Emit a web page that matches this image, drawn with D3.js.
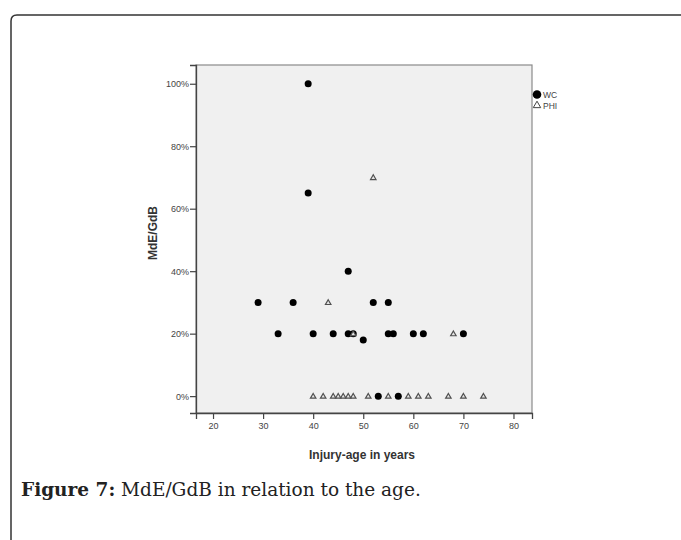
<!DOCTYPE html>
<html>
<head>
<meta charset="utf-8">
<script src="https://cdn.jsdelivr.net/npm/d3@7"></script>
<style>
  body { margin: 0; background: #fff; }
  svg { display: block; }
</style>
</head>
<body>
<svg id="chart" width="681" height="540"></svg>
<script>
// WC cases (filled circles)
const wcAge = [39, 39, 29, 36, 33, 40, 47, 52, 55, 44, 47, 48, 50, 55, 56, 60, 62, 70, 53, 57];
const wcPct = [100, 65, 30, 30, 20, 20, 40, 30, 30, 20, 20, 20, 18, 20, 20, 20, 20, 20, 0, 0];

// PHI cases (open triangles)
const phiAge = [52, 43, 68, 48, 40, 42, 44, 45, 46, 47, 48, 51, 55, 59, 61, 63, 67, 70, 74];
const phiPct = [70, 30, 20, 20, 0, 0, 0, 0, 0, 0, 0, 0, 0, 0, 0, 0, 0, 0, 0];

const xTicks = [20, 30, 40, 50, 60, 70, 80];
const yTicks = [0, 20, 40, 60, 80, 100];

const svg = d3.select("#chart");

// outer figure frame (only top & left visible)
svg.append("path")
  .attr("d", "M11,560 L11,21 Q11,15 17,15 L700,15")
  .attr("fill", "none")
  .attr("stroke", "#333")
  .attr("stroke-width", 1.5);

const plot = { left: 196, right: 532, top: 65, bottom: 413 };

const x = d3.scaleLinear().domain([16.6, 83.7]).range([plot.left, plot.right]);
const y = d3.scaleLinear().domain([-5.4, 106]).range([plot.bottom, plot.top]);

// plot background
svg.append("rect")
  .attr("x", plot.left)
  .attr("y", plot.top)
  .attr("width", plot.right - plot.left)
  .attr("height", plot.bottom - plot.top)
  .attr("fill", "#f0f0f0")
  .attr("stroke", "#8a8a8a")
  .attr("stroke-width", 1.2);

// axes
const yAxis = svg.append("g")
  .attr("transform", `translate(${plot.left},0)`)
  .call(d3.axisLeft(y).tickValues(yTicks).tickFormat(d => d + "%").tickSize(6).tickPadding(1));
const xAxis = svg.append("g")
  .attr("transform", `translate(0,${plot.bottom})`)
  .call(d3.axisBottom(x).tickValues(xTicks).tickSize(6).tickPadding(4));

[xAxis, yAxis].forEach(g => {
  g.select(".domain").attr("stroke", "#444").attr("stroke-width", 1.3);
  g.selectAll(".tick line").attr("stroke", "#444").attr("stroke-width", 1.2);
  g.selectAll(".tick text")
    .attr("fill", "#444")
    .style("font-family", "Arial, 'Liberation Sans', sans-serif")
    .style("font-size", "9px");
});

// axis titles
svg.append("text")
  .attr("x", 362)
  .attr("y", 459)
  .attr("text-anchor", "middle")
  .style("font-family", "Arial, 'Liberation Sans', sans-serif")
  .style("font-size", "12px")
  .style("font-weight", "bold")
  .attr("fill", "#333")
  .text("Injury-age in years");

svg.append("text")
  .attr("transform", "translate(157,233) rotate(-90)")
  .attr("text-anchor", "middle")
  .style("font-family", "Arial, 'Liberation Sans', sans-serif")
  .style("font-size", "12px")
  .style("font-weight", "bold")
  .attr("fill", "#333")
  .text("MdE/GdB");

// points
const wc = wcAge.map((a, i) => ({ age: a, pct: wcPct[i] }));
const phi = phiAge.map((a, i) => ({ age: a, pct: phiPct[i] }));

svg.append("g")
  .selectAll("circle")
  .data(wc)
  .join("circle")
  .attr("cx", d => x(d.age))
  .attr("cy", d => y(d.pct))
  .attr("r", 3.5)
  .attr("fill", "#000");

const tri = d3.symbol().type(d3.symbolTriangle).size(13);
svg.append("g")
  .selectAll("path")
  .data(phi)
  .join("path")
  .attr("d", tri)
  .attr("transform", d => `translate(${x(d.age)},${y(d.pct) + 0.5})`)
  .attr("fill", "#e4e4e4")
  .attr("stroke", "#505050")
  .attr("stroke-width", 1.2);

// legend
const legend = svg.append("g").attr("transform", "translate(537,0)");
legend.append("circle").attr("cx", 0).attr("cy", 94.5).attr("r", 4.3).attr("fill", "#000");
legend.append("path")
  .attr("d", d3.symbol().type(d3.symbolTriangle).size(24))
  .attr("transform", "translate(0,105.5)")
  .attr("fill", "#fff")
  .attr("stroke", "#444")
  .attr("stroke-width", 1);
legend.selectAll("text")
  .data(["WC", "PHI"])
  .join("text")
  .attr("x", 6)
  .attr("y", (d, i) => 97.5 + i * 11)
  .style("font-family", "Arial, 'Liberation Sans', sans-serif")
  .style("font-size", "8.5px")
  .attr("fill", "#444")
  .text(d => d);

// caption
const cap = svg.append("text")
  .attr("x", 21)
  .attr("y", 496)
  .style("font-family", "'DejaVu Serif', 'Liberation Serif', serif")
  .style("font-size", "18.5px")
  .attr("fill", "#222");
cap.append("tspan").style("font-weight", "bold").text("Figure 7:");
cap.append("tspan").text(" MdE/GdB in relation to the age.");
</script>
</body>
</html>
